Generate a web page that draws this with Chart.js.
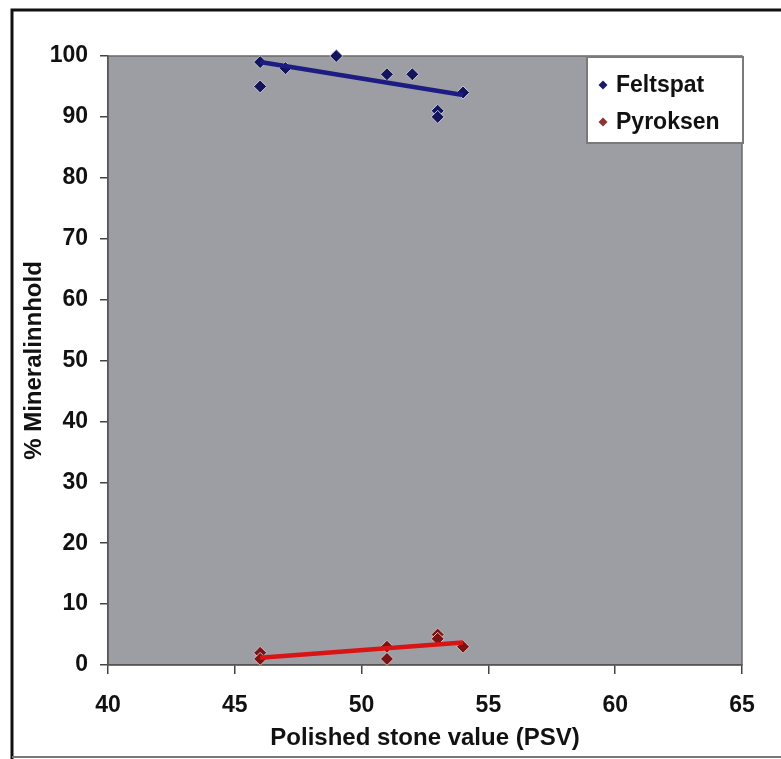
<!DOCTYPE html>
<html>
<head>
<meta charset="utf-8">
<script src="https://cdn.jsdelivr.net/npm/chart.js@4"></script>
<style>
  html, body { margin: 0; padding: 0; background: #fff; }
  #wrap { width: 781px; height: 759px; }
</style>
</head>
<body>
<div id="wrap"><canvas id="chart" width="781" height="759"></canvas></div>
<script>
// values
const feltspatX = [46, 46, 47, 49, 51, 52, 53, 53, 54];
const feltspatY = [99, 95, 98, 100, 97, 97, 91, 90, 94];
const pyroksenX = [46, 46, 51, 51, 53, 53, 54];
const pyroksenY = [2, 1, 3, 1, 5, 4.3, 3];
// trend line end points
const trendX = [46, 54];
const feltspatTrend = [99, 93.6];
const pyroksenTrend = [1.2, 3.7];

const xTicks = [40, 45, 50, 55, 60, 65];
const yTicks = [0, 10, 20, 30, 40, 50, 60, 70, 80, 90, 100];

const FONT = "'Liberation Sans', Arial, sans-serif";

function pts(xs, ys) {
    return xs.map((x, i) => ({ x: x, y: ys[i] }));
}

// frame + plot background
const backdrop = {
    id: 'backdrop',
    beforeDraw(chart) {
        const ctx = chart.ctx;
        const a = chart.chartArea;
        ctx.save();
        ctx.fillStyle = '#ffffff';
        ctx.fillRect(0, 0, chart.width, chart.height);
        ctx.fillStyle = '#9d9ea3';
        ctx.fillRect(a.left, a.top, a.right - a.left, a.bottom - a.top);
        ctx.strokeStyle = '#6a6a6a';
        ctx.lineWidth = 1.5;
        ctx.strokeRect(a.left, a.top, a.right - a.left, a.bottom - a.top);
        // outer frame
        ctx.strokeStyle = '#111';
        ctx.lineWidth = 3;
        ctx.beginPath();
        ctx.moveTo(12, 759);
        ctx.lineTo(12, 10);
        ctx.lineTo(781, 10);
        ctx.stroke();
        ctx.strokeStyle = '#777';
        ctx.lineWidth = 2;
        ctx.beginPath();
        ctx.moveTo(12, 757);
        ctx.lineTo(781, 757);
        ctx.stroke();
        ctx.restore();
    }
};

// legend box inside the plot, top right
const legendBox = {
    id: 'legendBox',
    afterDraw(chart) {
        const ctx = chart.ctx;
        const items = chart.data.datasets.filter(d => d.inLegend);
        ctx.save();
        ctx.fillStyle = '#ffffff';
        ctx.fillRect(587, 57, 156, 86);
        ctx.strokeStyle = '#7a7a7a';
        ctx.lineWidth = 2;
        ctx.strokeRect(587, 57, 156, 86);
        ctx.font = 'bold 23px ' + FONT;
        ctx.textBaseline = 'middle';
        items.forEach((d, i) => {
            const y = 85 + i * 37;
            ctx.fillStyle = d.legendColor;
            ctx.beginPath();
            ctx.moveTo(603, y - 4.5);
            ctx.lineTo(607.5, y);
            ctx.lineTo(603, y + 4.5);
            ctx.lineTo(598.5, y);
            ctx.closePath();
            ctx.fill();
            ctx.fillStyle = '#111';
            ctx.fillText(d.label, 616, y + 1);
        });
        ctx.restore();
    }
};

new Chart(document.getElementById('chart'), {
    type: 'scatter',
    data: {
        datasets: [
            {
                label: 'Feltspat trend',
                data: pts(trendX, feltspatTrend),
                showLine: true,
                borderColor: '#1c1c82',
                borderWidth: 4.5,
                pointRadius: 0
            },
            {
                label: 'Pyroksen trend',
                data: pts(trendX, pyroksenTrend),
                showLine: true,
                borderColor: '#d81414',
                borderWidth: 4.5,
                pointRadius: 0
            },
            {
                label: 'Feltspat',
                inLegend: true,
                legendColor: '#1a1a6a',
                data: pts(feltspatX, feltspatY),
                clip: false,
                pointStyle: 'rectRot',
                pointRadius: 6.5,
                backgroundColor: '#14145a',
                borderColor: '#c6c8d4',
                borderWidth: 1
            },
            {
                label: 'Pyroksen',
                inLegend: true,
                legendColor: '#8a3434',
                data: pts(pyroksenX, pyroksenY),
                clip: false,
                pointStyle: 'rectRot',
                pointRadius: 6.5,
                backgroundColor: '#7a1414',
                borderColor: '#d0c0c0',
                borderWidth: 1
            }
        ]
    },
    options: {
        responsive: false,
        animation: false,
        layout: { padding: { left: 0, top: 56, right: 39, bottom: 0 } },
        plugins: {
            legend: { display: false },
            tooltip: { enabled: false }
        },
        scales: {
            x: {
                type: 'linear',
                min: 40,
                max: 65,
                afterBuildTicks(scale) {
                    scale.ticks = xTicks.map(v => ({ value: v }));
                },
                afterFit(scale) { scale.height = 94; },
                grid: {
                    drawOnChartArea: false,
                    color: '#444',
                    tickLength: 9,
                    lineWidth: 1.5
                },
                border: { color: '#555', width: 1.5 },
                ticks: {
                    padding: 18,
                    color: '#111',
                    maxRotation: 0,
                    font: { family: FONT, size: 23, weight: 'bold' }
                },
                title: {
                    display: true,
                    text: 'Polished stone value (PSV)',
                    color: '#111',
                    padding: { top: 0, bottom: 6 },
                    font: { family: FONT, size: 24, weight: 'bold' }
                }
            },
            y: {
                type: 'linear',
                min: 0,
                max: 100,
                afterBuildTicks(scale) {
                    scale.ticks = yTicks.map(v => ({ value: v }));
                },
                afterFit(scale) { scale.width = 108; },
                grid: {
                    drawOnChartArea: false,
                    color: '#444',
                    tickLength: 8,
                    lineWidth: 1.5
                },
                border: { color: '#555', width: 1.5 },
                ticks: {
                    padding: 12,
                    color: '#111',
                    font: { family: FONT, size: 23, weight: 'bold' }
                },
                title: {
                    display: true,
                    text: '% Mineralinnhold',
                    color: '#111',
                    padding: { top: 20, bottom: 0 },
                    font: { family: FONT, size: 24, weight: 'bold' }
                }
            }
        }
    },
    plugins: [backdrop, legendBox]
});
</script>
</body>
</html>
